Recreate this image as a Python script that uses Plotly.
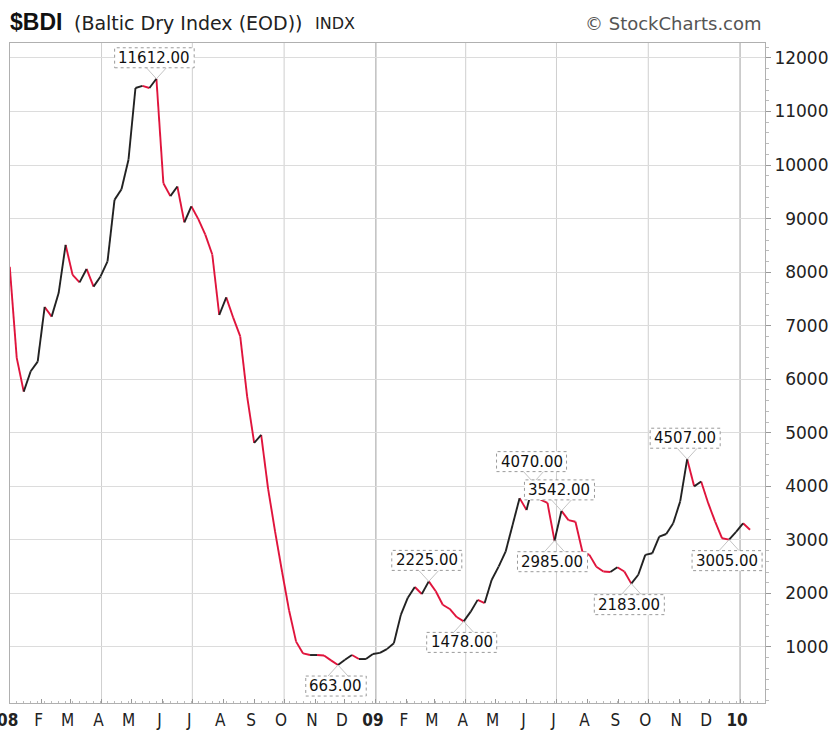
import pandas as pd
import plotly.graph_objects as go

# ---- data (weekly closes) ----
start_date = "2007-12-31"
bdi = [8100, 6400, 5770, 6150, 6330, 7350, 7170, 7610, 8510, 7950,
       7810, 8060, 7730, 7920, 8200, 9350, 9550, 10100, 11440, 11480,
       11440, 11612, 9660, 9420, 9600, 8930, 9230, 8990, 8700, 8330,
       7200, 7530, 7150, 6800, 5670, 4810, 4960, 3950, 3150, 2400,
       1680, 1100, 880, 850, 850, 840, 750, 663, 760, 850,
       775, 775, 870, 890, 960, 1070, 1600, 1920, 2120, 1990,
       2225, 2040, 1790, 1710, 1560, 1478, 1660, 1880, 1820, 2250,
       2500, 2780, 3280, 3780, 3560, 4070, 3750, 3690, 2985, 3542,
       3370, 3340, 2780, 2720, 2500, 2410, 2400, 2490, 2410, 2183,
       2350, 2720, 2750, 3060, 3110, 3310, 3720, 4507, 4000, 4090,
       3690, 3340, 3030, 3005, 3150, 3310, 3190]
dates = pd.date_range(start_date, periods=len(bdi), freq="7D")

# labelled points: (index, 'above'/'below')
labelled = [(21, "above"), (47, "below"), (60, "above"), (65, "below"),
            (75, "above"), (79, "above"), (78, "below"), (89, "below"),
            (97, "above"), (103, "below")]

month_ticks = pd.date_range("2008-01-01", "2010-01-01", freq="MS")
month_labels = ["<b>08</b>", "F", "M", "A", "M", "J", "J", "A", "S", "O", "N", "D",
                "<b>09</b>", "F", "M", "A", "M", "J", "J", "A", "S", "O", "N", "D",
                "<b>10</b>"]
quarter_lines = ["2008-04-01", "2008-07-01", "2008-10-01", "2009-04-01",
                 "2009-07-01", "2009-10-01"]
year_lines = ["2009-01-01", "2010-01-01"]
y_ticks = list(range(1000, 12001, 1000))
# right-aligned labels: pad 4-digit values with two narrow spaces (= one digit)
y_labels = [("\u00a0\u00a0" if v < 10000 else "") + str(v) for v in y_ticks]

RED = "#e0143c"
BLACK = "#222222"
LABEL_FS = 15

# ---- build up / down segments ----
ux, uy, dx, dy = [], [], [], []
for i in range(len(bdi) - 1):
    if bdi[i + 1] >= bdi[i]:
        ux += [dates[i], dates[i + 1], None]
        uy += [bdi[i], bdi[i + 1], None]
    else:
        dx += [dates[i], dates[i + 1], None]
        dy += [bdi[i], bdi[i + 1], None]

fig = go.Figure()
fig.add_trace(go.Scatter(x=dx, y=dy, mode="lines", line=dict(color=RED, width=1.9),
                         hoverinfo="skip"))
fig.add_trace(go.Scatter(x=ux, y=uy, mode="lines", line=dict(color=BLACK, width=1.9),
                         hoverinfo="skip"))

shapes = []
for d in quarter_lines:
    shapes.append(dict(type="line", xref="x", yref="paper", x0=d, x1=d, y0=0, y1=1,
                       line=dict(color="#cfcfcf", width=1), layer="below"))
for d in year_lines:
    shapes.append(dict(type="line", xref="x", yref="paper", x0=d, x1=d, y0=0, y1=1,
                       line=dict(color="#a0a0a0", width=1), layer="below"))

annotations = []
for idx, pos in labelled:
    sgn = 1 if pos == "above" else -1
    txt = f"{bdi[idx]:.2f}"
    w = (len(txt) - 1) * 0.636 * LABEL_FS + 0.318 * LABEL_FS + 8
    for side in (-1, 1):
        shapes.append(dict(type="line", xref="x", yref="y",
                           xsizemode="pixel", ysizemode="pixel",
                           xanchor=dates[idx], yanchor=bdi[idx],
                           x0=0, y0=0, x1=side * 10, y1=sgn * 11,
                           line=dict(color="#c4c4c4", width=1)))
    shapes.append(dict(type="rect", xref="x", yref="y",
                       xsizemode="pixel", ysizemode="pixel",
                       xanchor=dates[idx], yanchor=bdi[idx],
                       x0=-2 - w / 2, x1=-2 + w / 2,
                       y0=sgn * 11, y1=sgn * 31,
                       fillcolor="white", line=dict(color="#9a9a9a", width=1, dash="dot")))
    annotations.append(dict(x=dates[idx], y=bdi[idx], xref="x", yref="y",
                            text=txt, showarrow=False,
                            xanchor="center", yanchor="middle",
                            yshift=sgn * 21, xshift=-2,
                            font=dict(family="DejaVu Sans", size=LABEL_FS, color="#111")))

# header texts
annotations += [
    dict(xref="paper", yref="paper", x=-0.0027, y=1.032, xanchor="left", yanchor="middle",
         text="<b>$BDI</b>", showarrow=False,
         font=dict(family="Liberation Sans, Arial", size=23, color="#111")),
    dict(xref="paper", yref="paper", x=0.0821, y=1.030, xanchor="left", yanchor="middle",
         text="(Baltic Dry Index (EOD))", showarrow=False,
         font=dict(family="DejaVu Sans", size=19, color="#222")),
    dict(xref="paper", yref="paper", x=0.4013, y=1.030, xanchor="left", yanchor="middle",
         text="INDX", showarrow=False,
         font=dict(family="DejaVu Sans", size=16, color="#222")),
    dict(xref="paper", yref="paper", x=0.9987, y=1.0288, xanchor="right", yanchor="middle",
         text="© StockCharts.com", showarrow=False,
         font=dict(family="DejaVu Sans", size=18, color="#555")),
]

fig.update_layout(
    width=834, height=731,
    margin=dict(l=10, r=69, t=43, b=28),
    plot_bgcolor="white", paper_bgcolor="white",
    showlegend=False,
    shapes=shapes, annotations=annotations,
    xaxis=dict(type="date", range=["2007-12-31 06:00", "2010-01-26"],
               automargin=False,
               tickvals=month_ticks, ticktext=month_labels,
               ticks="inside", ticklen=4, tickcolor="#999",
               ticklabelshift=-3, ticklabelstandoff=2, ticklabeloverflow="allow",
               showgrid=False, zeroline=False,
               showline=True, linecolor="#b0b0b0", mirror=True,
               tickfont=dict(family="Liberation Sans Narrow, DejaVu Sans Condensed, Arial",
                             size=17, color="#222"),
               minor=dict(dtick=7 * 86400000, tick0="2007-12-31", ticks="inside",
                          ticklen=2, tickcolor="#bbb", showgrid=False)),
    yaxis=dict(side="right", range=[-46, 12280], tickvals=y_ticks, ticktext=y_labels,
               automargin=False,
               ticks="outside", ticklen=5, tickcolor="#999",
               gridcolor="#dcdcdc", gridwidth=1, zeroline=False,
               showline=True, linecolor="#b0b0b0", mirror=True,
               tickfont=dict(family="DejaVu Sans", size=17, color="#222"),
               minor=dict(dtick=200, ticks="outside", ticklen=3, tickcolor="#bbb",
                          showgrid=False)),
)

fig.write_html("out.html", config={"displayModeBar": False},
               post_script="document.body.style.margin='0';document.body.style.overflow='hidden';")
